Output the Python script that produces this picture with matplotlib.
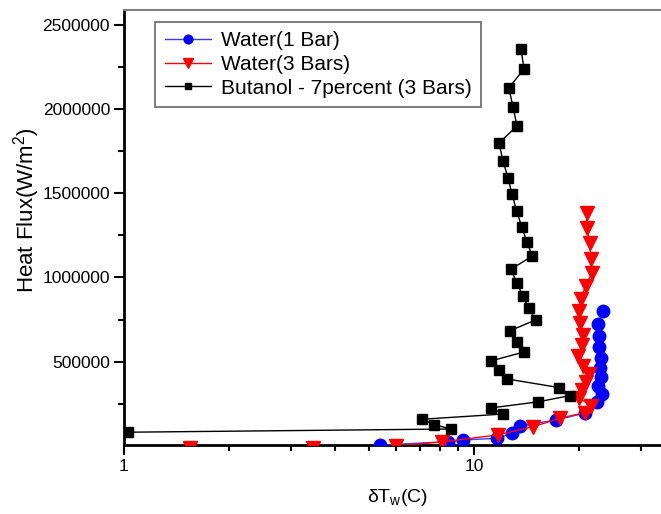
import matplotlib
matplotlib.use("Agg")
import matplotlib.pyplot as plt
from matplotlib.ticker import FixedLocator, NullFormatter, FixedFormatter

plt.rcParams['font.family'] = ['Liberation Sans', 'DejaVu Sans']

# Water (1 Bar)
w1_dt = [5.39, 8.45, 9.32, 11.67, 12.84, 13.53, 17.19, 20.69, 22.41, 23.17, 22.65,
         23.06, 22.91, 23.06, 22.79, 22.76, 22.65, 23.32]
w1_q = [4000, 25000, 35000, 45000, 75000, 118000, 154000, 194000, 263000, 308000, 356000,
        407000, 465000, 524000, 589000, 655000, 724000, 801000]

# Water (3 Bars)
w3_dt = [1.54, 3.46, 5.99, 8.09, 11.69, 14.77, 17.61, 20.70, 21.63, 19.99, 20.31, 20.85,
         21.35, 20.44, 19.86, 20.39, 20.44, 20.09, 19.99, 20.18, 20.85, 21.74, 21.55,
         21.41, 20.99, 20.99]
w3_q = [-10000, -10000, 0, 23000, 65000, 114000, 164000, 197000, 239000, 283000, 332000,
        378000, 427000, 476000, 536000, 598000, 661000, 728000, 800000, 874000, 950000,
        1029000, 1112000, 1203000, 1296000, 1385000]

# Butanol - 7percent (3 Bars)
bu_dt = [1.03, 8.58, 7.70, 7.10, 12.13, 11.16, 15.21, 18.77, 17.53, 12.45, 11.77, 11.16,
         13.92, 13.24, 12.67, 15.01, 14.33, 13.78, 13.24, 12.76, 14.68, 14.15, 13.69,
         13.24, 12.84, 12.51, 12.10, 11.79, 13.27, 12.93, 12.57, 13.90, 13.62]
bu_q = [81000, 100000, 126000, 158000, 189000, 225000, 261000, 298000, 346000, 397000,
        449000, 504000, 558000, 619000, 684000, 748000, 817000, 892000, 969000, 1049000,
        1128000, 1213000, 1302000, 1395000, 1496000, 1591000, 1692000, 1799000, 1900000,
        2013000, 2126000, 2239000, 2358000]

labels = ['Water(1 Bar)', 'Water(3 Bars)', 'Butanol - 7percent (3 Bars)']
ytick_vals = [500000, 1000000, 1500000, 2000000, 2500000]
xtick_vals = [1, 10]

fig = plt.figure(figsize=(6.61, 5.14), dpi=100)
ax = fig.add_axes([124/661, 69/514, 1 - 124/661 + 0.01, 435/514])

ax.plot(w1_dt, w1_q, color='#3a3aff', lw=1.0, marker='o', ms=9, mfc='blue', mec='blue',
        label=labels[0], zorder=3)
ax.plot(w3_dt, w3_q, color='red', lw=1.0, marker='v', ms=10, mfc='red', mec='red',
        label=labels[1], zorder=4)
ax.plot(bu_dt, bu_q, color='black', lw=1.0, marker='s', ms=7, mfc='black', mec='black',
        label=labels[2], zorder=5)

ax.set_xscale('log')
ax.set_xlim(1, 10 ** ((661 - 124) / 350 + 0.01 * 661 / 350))
ax.set_ylim(5000, 2589000)

ax.xaxis.set_major_locator(FixedLocator(xtick_vals))
ax.xaxis.set_major_formatter(FixedFormatter([str(v) for v in xtick_vals]))
ax.xaxis.set_minor_locator(FixedLocator([2, 3, 4, 5, 6, 7, 8, 9, 20, 30]))
ax.xaxis.set_minor_formatter(NullFormatter())

ax.yaxis.set_major_locator(FixedLocator(ytick_vals))
ax.yaxis.set_major_formatter(FixedFormatter([str(v) for v in ytick_vals]))
ax.yaxis.set_minor_locator(FixedLocator([250000, 750000, 1250000, 1750000, 2250000]))

ax.tick_params(axis='both', which='major', direction='out', length=7, width=1.5,
               labelsize=12.5, pad=3)
ax.tick_params(axis='both', which='minor', direction='out', length=4, width=1.5)

for s in ['left', 'bottom']:
    ax.spines[s].set_linewidth(2)
    ax.spines[s].set_color('black')
ax.spines['top'].set_color('#808080')
ax.spines['top'].set_linewidth(1.5)
ax.spines['right'].set_visible(False)

ax.set_xlabel(r'$\mathregular{\delta T_w}$(C)', fontsize=14)
ax.set_ylabel(r'Heat Flux(W/m$\mathregular{^2}$)', fontsize=16)
ax.xaxis.set_label_coords((394.5 - 124) / 537, -(497 - 445) / 435)
ax.yaxis.set_label_coords(-(124 - 28) / 537, (445 - 210) / 435)
ax.xaxis.label.set_va('center')
ax.yaxis.label.set_va('center')

leg = ax.legend(loc='upper left', bbox_to_anchor=(31 / 537, 1 - 12 / 435), borderaxespad=0,
                fontsize=15, frameon=True, fancybox=False, edgecolor='#404040',
                markerscale=0.7, handlelength=2.2, handletextpad=0.5, labelspacing=0.22,
                borderpad=0.45)
leg.get_frame().set_linewidth(1.2)

fig.savefig('out.png', dpi=100)
